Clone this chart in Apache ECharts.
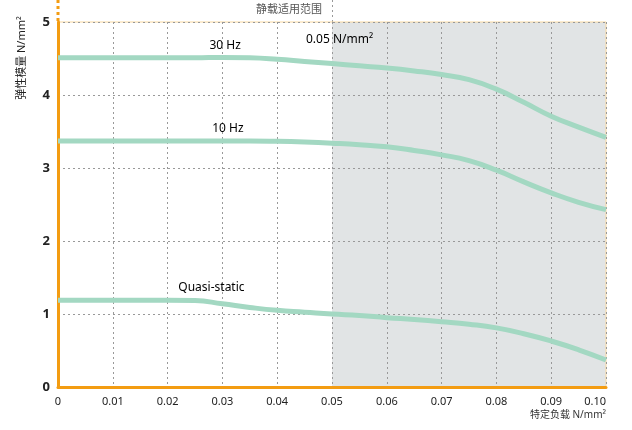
<!DOCTYPE html>
<html>
<head>
<meta charset="utf-8">
<script src="https://cdn.jsdelivr.net/npm/echarts@6/dist/echarts.min.js"></script>
<style>
	html, body { margin: 0; padding: 0; background: #fff; }
	#chart { width: 632px; height: 430px; }
</style>
</head>
<body>
<div id="chart"></div>
<script>
	// load values (N/mm2)
	var loads = [0, 0.01, 0.02, 0.025, 0.03, 0.035, 0.04, 0.045, 0.05, 0.055, 0.06, 0.065, 0.07, 0.075, 0.08, 0.085, 0.09, 0.095, 0.10];
	// elastic modulus per curve
	var hz30 = [4.51, 4.51, 4.51, 4.51, 4.515, 4.51, 4.49, 4.46, 4.43, 4.40, 4.37, 4.33, 4.28, 4.21, 4.08, 3.90, 3.71, 3.56, 3.42];
	var hz10 = [3.37, 3.37, 3.37, 3.37, 3.37, 3.37, 3.365, 3.355, 3.34, 3.32, 3.29, 3.24, 3.18, 3.10, 2.97, 2.81, 2.66, 2.53, 2.43];
	var quasi = [1.19, 1.19, 1.19, 1.185, 1.14, 1.09, 1.05, 1.025, 1.00, 0.98, 0.95, 0.925, 0.895, 0.86, 0.81, 0.73, 0.63, 0.51, 0.37];
	var xTicks = ['0', '0.01', '0.02', '0.03', '0.04', '0.05', '0.06', '0.07', '0.08', '0.09', '0.10'];

	var FONT = "'Noto Sans', 'Noto Sans CJK SC', sans-serif";
	var LINE_COLOR = '#a3d8c2';
	var ORANGE = '#f39c12';

	function pairs(ys) {
		var out = [];
		for (var i = 0; i < loads.length; i++) {
			out.push([loads[i], ys[i]]);
		}
		return out;
	}

	function curve(name, ys, labelAt, labelOffset) {
		return {
			name: name,
			type: 'line',
			smooth: 0.5,
			symbol: 'none',
			lineStyle: { color: LINE_COLOR, width: 5 },
			data: pairs(ys),
			markPoint: {
				symbol: 'circle',
				symbolSize: 0,
				label: {
					show: true,
					formatter: name,
					color: '#000',
					fontFamily: FONT,
					fontSize: 12,
					offset: labelOffset
				},
				data: [{ coord: labelAt }]
			},
			z: 3
		};
	}

	var myChart = echarts.init(document.getElementById('chart'));
	var option = {
		animation: false,
		grid: {
			left: 58,
			right: 26,
			top: 22,
			bottom: 43,
			show: true,
			borderColor: '#f8d8a0',
			borderWidth: 1,
			z: 2
		},
		xAxis: {
			type: 'value',
			min: 0,
			max: 0.1,
			interval: 0.01,
			z: 2,
			axisLine: { show: true, onZero: false, lineStyle: { color: ORANGE, width: 3 } },
			axisTick: { show: false },
			axisLabel: {
				color: '#222',
				fontFamily: FONT,
				fontSize: 11,
				margin: 9,
				alignMaxLabel: 'right',
				formatter: function(v) {
					return xTicks[Math.round(v * 100)];
				}
			},
			splitLine: { show: true, lineStyle: { color: '#999', type: [2, 3], width: 1 } }
		},
		yAxis: {
			type: 'value',
			min: 0,
			max: 5,
			interval: 1,
			z: 2,
			axisLine: { show: true, lineStyle: { color: ORANGE, width: 3 } },
			axisTick: { show: false },
			axisLabel: {
				color: '#222',
				fontFamily: FONT,
				fontSize: 13,
				fontWeight: 'bold',
				margin: 8
			},
			splitLine: { show: true, lineStyle: { color: '#999', type: [2, 3], width: 1 } }
		},
		series: [
			curve('30 Hz', hz30, [0.0305, 4.51], [0, -12]),
			curve('10 Hz', hz10, [0.031, 3.37], [0, -12]),
			curve('Quasi-static', quasi, [0.028, 1.19], [0, -13]),
			{
				type: 'line',
				data: [],
				markArea: {
					silent: true,
					itemStyle: { color: '#e1e4e5' },
					data: [[{ xAxis: 0.05 }, { xAxis: 0.1 }]]
				},
				z: 1
			}
		]
	};
	myChart.setOption(option);

	// extras outside the plot area
	var p0 = myChart.convertToPixel({ gridIndex: 0 }, [0, 5]);
	var p5 = myChart.convertToPixel({ gridIndex: 0 }, [0.05, 5]);
	var pEnd = myChart.convertToPixel({ gridIndex: 0 }, [0.1, 0]);
	myChart.setOption({
		graphic: [
			{
				type: 'line',
				shape: { x1: p0[0], y1: 0, x2: p0[0], y2: p0[1] },
				style: { stroke: ORANGE, lineWidth: 3, lineDash: [3, 3] }
			},
			{
				type: 'line',
				shape: { x1: p5[0] + 0.5, y1: 0, x2: p5[0] + 0.5, y2: p5[1] },
				style: { stroke: '#999', lineWidth: 1, lineDash: [2, 3] }
			},
			{
				type: 'text',
				x: p5[0] - 10,
				y: 10,
				style: {
					text: '静载适用范围',
					fill: '#555',
					font: '11px ' + FONT,
					align: 'right',
					verticalAlign: 'middle'
				}
			},
			{
				type: 'text',
				x: p5[0] - 26,
				y: 40,
				z: 10,
				style: {
					text: '0.05 N/mm²',
					fill: '#000',
					font: '12px ' + FONT,
					align: 'left',
					verticalAlign: 'middle'
				}
			},
			{
				type: 'text',
				x: 22,
				y: 58,
				rotation: Math.PI / 2,
				style: {
					text: '弹性模量 N/mm²',
					fill: '#222',
					font: '11px ' + FONT,
					align: 'center',
					verticalAlign: 'middle'
				}
			},
			{
				type: 'text',
				x: pEnd[0],
				y: 415,
				style: {
					text: '特定负载 N/mm²',
					fill: '#333',
					font: '10px ' + FONT,
					align: 'right',
					verticalAlign: 'middle'
				}
			}
		]
	});
</script>
</body>
</html>
